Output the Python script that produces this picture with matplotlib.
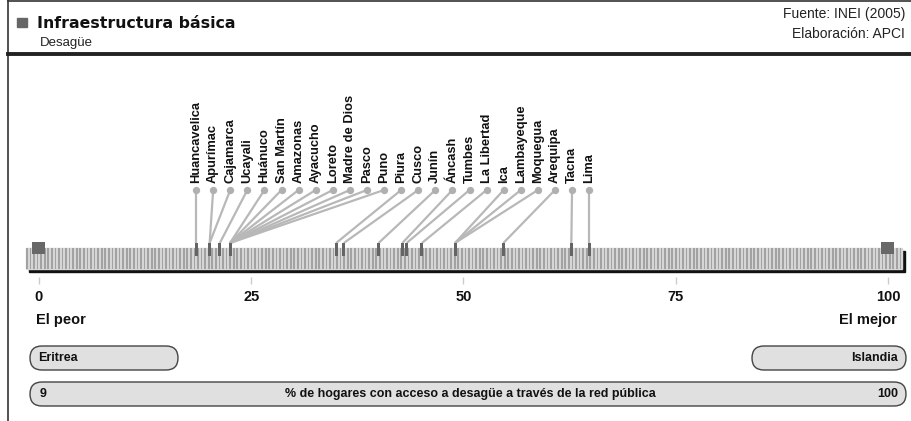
#!/usr/bin/env python3
"""Ranking de regiones: hogares con desagüe por red pública"""
import matplotlib
matplotlib.use('Agg')
import matplotlib.pyplot as plt
import numpy as np
from matplotlib.patches import FancyBboxPatch, Rectangle

regiones = ['Huancavelica', 'Apurímac', 'Cajamarca', 'Ucayali', 'Huánuco',
            'San Martín', 'Amazonas', 'Ayacucho', 'Loreto', 'Madre de Dios',
            'Pasco', 'Puno', 'Piura', 'Cusco', 'Junín', 'Áncash', 'Tumbes',
            'La Libertad', 'Ica', 'Lambayeque', 'Moquegua', 'Arequipa',
            'Tacna', 'Lima']
valores = [18.5, 20.1, 20.1, 21.3, 22.5,
           22.5, 22.5, 22.5, 22.5, 22.5,
           22.5, 22.5, 35.0, 35.9, 40.0, 42.8, 43.3,
           45.1, 49.0, 49.0, 49.0, 54.7,
           62.7, 64.8]
ticks = [0, 25, 50, 75, 100]
peor_pais, peor_valor = 'Eritrea', 9
mejor_pais, mejor_valor = 'Islandia', 100
indicador = '% de hogares con acceso a desagüe a través de la red pública'

W, H = 912, 421
X0, X100 = 39, 888          # pixel columns of 0 and 100
upx = 100 / (X100 - X0)     # data units per pixel
SANS = ['Liberation Sans', 'DejaVu Sans']
INK = '#111111'

fig = plt.figure(figsize=(W / 100, H / 100), dpi=100)
fig.patch.set_facecolor('white')

# layout axes in pixels
lay = fig.add_axes([0, 0, 1, 1])
lay.set_xlim(0, W)
lay.set_ylim(H, 0)
lay.axis('off')

# data axes: x in % units, y in pixels
ax = fig.add_axes([0, 0, 1, 1])
ax.set_xlim(-X0 * upx, (W - X0) * upx)
ax.set_ylim(H, 0)
ax.axis('off')
ax.patch.set_alpha(0)

# frame and header
lay.plot([8, 8], [0, H], color='#333333', lw=1.2)
lay.plot([8, W], [1, 1], color='#333333', lw=1.2)
lay.plot([8, W], [53.5, 53.5], color='#222222', lw=2.8)
lay.add_patch(Rectangle((17, 18), 10, 9, color='#666666'))
lay.text(37, 24, 'Infraestructura básica', va='center', ha='left',
         fontsize=11.3, fontweight='bold', family='DejaVu Sans', color=INK)
lay.text(40, 43, 'Desagüe', va='center', ha='left', fontsize=9.5,
         family=SANS, color='#222222')
lay.text(905, 14, 'Fuente: INEI (2005)', va='center', ha='right',
         fontsize=10, family=SANS, color='#222222')
lay.text(905, 34, 'Elaboración: APCI', va='center', ha='right',
         fontsize=10, family=SANS, color='#222222')

# scale bar with shadow and stripes
left, right = -13 * upx, 100 + 14 * upx
ax.add_patch(Rectangle((left + 3 * upx, 251), right - left, 21,
                       color='#111111', zorder=1))
ax.add_patch(Rectangle((left, 248), right - left, 21,
                       color='#d6d6d6', zorder=2))
stripes = np.arange(left, right - 0.1, 0.42)
ax.bar(stripes, 21, bottom=248, width=0.2, align='edge',
       color='#a2a2a2', lw=0, zorder=3)

# scale extremes
ax.bar([0, 100], 12, bottom=242, width=13 * upx, color='#686868',
       lw=0, zorder=5)

# region markers, leader lines, dots and labels
n = len(regiones)
slots = np.linspace(min(valores), max(valores), n)
ax.bar(valores, 13, bottom=243, width=3 * upx, color='#646464',
       lw=0, zorder=5)
for xs, v, name in zip(slots, valores, regiones):
    ax.plot([xs, v], [190, 243], color='#b8b8b8', lw=1.6,
            solid_capstyle='butt', zorder=4)
    ax.text(xs, 183, name, rotation=90, ha='center', va='bottom',
            fontsize=9.3, fontweight='bold', family=SANS, color=INK)
ax.scatter(slots, [190] * n, s=28, color='#b0b0b0', zorder=6, lw=0)

# ticks
ax.vlines(ticks, 277, 284, color='#cccccc', lw=1)
for t in ticks:
    ax.text(t, 297, str(t), ha='center', va='center', fontsize=10.5,
            fontweight='bold', family=SANS, color=INK)
ax.text(-3 * upx, 320, 'El peor', ha='left', va='center', fontsize=10.5,
        fontweight='bold', family=SANS, color=INK)
ax.text(100 + 9 * upx, 320, 'El mejor', ha='right', va='center',
        fontsize=10.5, fontweight='bold', family=SANS, color=INK)


def pill(x, y, w, h):
    lay.add_patch(FancyBboxPatch((x, y), w, h,
                                 boxstyle=f'round,pad=0,rounding_size={h / 2}',
                                 facecolor='#e0e0e0', edgecolor='#444444',
                                 lw=1))


pill(30, 346, 148, 24)
pill(752, 346, 154, 24)
pill(30, 382, 876, 24)
lay.text(38, 358, peor_pais, ha='left', va='center', fontsize=9,
         fontweight='bold', family=SANS, color=INK)
lay.text(898, 358, mejor_pais, ha='right', va='center', fontsize=9,
         fontweight='bold', family=SANS, color=INK)
lay.text(40, 394, str(peor_valor), ha='left', va='center', fontsize=9,
         fontweight='bold', family=SANS, color=INK)
lay.text(470, 394, indicador, ha='center', va='center', fontsize=9,
         fontweight='bold', family=SANS, color=INK)
lay.text(898, 394, str(mejor_valor), ha='right', va='center', fontsize=9,
         fontweight='bold', family=SANS, color=INK)

fig.savefig('out.png', dpi=100)
